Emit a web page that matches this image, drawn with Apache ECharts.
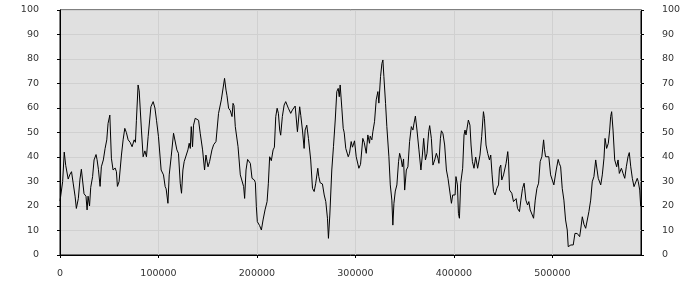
<!DOCTYPE html>
<html>
<head>
<meta charset="utf-8">
<script src="https://cdn.jsdelivr.net/npm/echarts@6/dist/echarts.min.js"></script>
<style>html,body{margin:0;padding:0;background:#fff}#c{width:700px;height:300px}</style>
</head>
<body>
<div id="c"></div>
<script>
var xTicks = [0, 100000, 200000, 300000, 400000, 500000];
var yTicks = [0, 10, 20, 30, 40, 50, 60, 70, 80, 90, 100];
var xValues = [
0,1500,2700,4300,5800,8300,10200,11700,13500,15300,16600,18600,20300,21700,23100,24400,26400,27500,28500,30000,
31200,33100,34600,36600,37600,39000,40700,42000,44000,45800,47500,48800,50600,52200,53900,56000,57300,58300,60000,62400,
64100,65800,67400,69200,71200,73200,75300,76600,77600,79300,80400,82700,84400,86200,87800,89500,92300,94600,96400,98000,
100000,102700,105100,106800,107800,109600,110900,112900,115300,116300,118700,120300,122100,123400,124800,126100,127900,129900,131200,132300,
133300,134600,135600,137300,139100,140700,142400,144800,146800,148200,150300,151900,154300,156000,158400,159400,161000,163800,165100,167100,
168600,169600,171200,172900,174700,175700,176700,178000,180800,183100,184900,186500,187500,188900,190500,193300,195000,197400,198400,199400,
200400,202700,204500,206200,208200,210300,211600,212900,214600,216400,217700,219100,220500,221800,223100,224100,225800,227600,229200,230200,
231900,234300,236000,238800,241100,242100,243400,244500,246200,247900,248900,250600,252300,254600,256400,258100,259700,261800,262800,264200,
266500,268300,269900,271600,272600,274000,276000,277700,279500,281100,282500,283600,284500,286200,287600,288600,290200,292700,294000,295700,
297000,299100,300800,303500,305200,307500,308900,311000,312600,314300,315000,316700,317700,319400,321100,322800,323800,325500,326900,327900,
328900,330600,331900,334000,335400,337000,338000,339100,340500,342100,343800,344900,346600,347600,348900,350000,351700,353300,355000,356800,
358400,359400,360900,362500,364500,366500,368000,369300,371100,372700,374400,375400,377100,378700,380500,382200,383800,384800,386300,387300,
388900,390600,392400,394000,395400,397500,398800,401200,402100,403600,404600,405600,406900,408900,410300,411300,412300,414700,416300,417400,
418800,420400,422100,424100,426500,428200,430000,431000,432600,434300,436100,437400,438800,440200,441800,443600,445300,446300,447600,448600,
450400,453000,454700,455500,456500,458800,460500,462200,463200,464600,466600,468000,469700,471300,473100,474800,476100,477500,479200,480900,
482600,484300,486000,487600,489300,491100,492000,493100,496400,498200,499800,501500,503900,505900,507000,508400,510000,511700,513400,515100,
516100,518800,521200,522900,525200,527700,528700,530400,532100,533800,535500,537100,538900,540500,542200,544000,545600,546600,549100,550700,
552400,553500,555100,556800,558200,559200,560200,561600,563300,565300,566700,568000,570100,571800,573500,575100,576800,578100,579600,581200,
582900,584600,586200,587200,588700,589700
];
var yValues = [
22,22,30,42,36.6,31,33,34,29,24,19,23,31,35,35,25,24,18.4,24,20,
27.6,32,38.8,41,39,35,28,36,38.8,43.5,47,53.7,57.1,39.5,34.7,35.5,34,28,30,40.8,
47,51.7,50,47,46,44.2,47,46,55,69.4,67,51,40.1,42.5,40.1,48.3,60.5,62.6,60,55,
48.3,34.7,32.7,27.9,27,21.1,32.7,40.1,49.7,50.3,42.9,41.5,29.3,25.2,34.7,38.1,37.4,42.9,45.6,43.5,
52.4,44.2,53,55.8,55.1,55,49.7,42.9,34.7,40.8,36,38.1,42.9,45,46.3,47,57.8,63.3,63.9,72.1,
67.3,65,59.9,59,56.5,61.9,61,52.4,44.2,32.7,32,27.9,23.1,34.7,39,37.4,31.3,30.6,29.5,19.7,
13.6,12,10.2,14.3,18.4,21.8,29.3,40.1,38.5,42.9,44,56.5,59.9,57.8,51,48.9,56.5,61.2,62.6,63.3,
59.9,57.8,59.2,60.8,50.3,51,60.5,57,51,43.5,51,53,47.6,38.8,27.2,25.9,29.3,35.4,32,29.5,
29,24.5,21.8,15,6.8,16.3,34.7,44.2,55.1,66.7,68,64.6,69.4,59.9,51.7,50,43.5,40.1,41.5,46.3,
44,46.6,40.1,35.4,37,47.6,46,41.5,49,45.6,48.5,47,50.3,54.4,63.3,66.7,62,72.8,78.2,79.6,
72.8,61.9,52.4,40.1,28.6,22.4,12.2,21.1,26.1,28.6,38.1,41.5,38.8,36,39.2,26.5,34.7,36,46.3,52.4,
51,53.5,56.7,51,42.9,34.7,40.8,47.6,38.8,41.5,50.3,52.8,47.6,36.7,38.8,41.5,39.5,37.4,47.6,50.7,
49.5,44.9,34.7,31.3,30.5,21.1,24.5,24.5,32,28.6,17,15,29.3,35.4,49,51,49,55.1,53,44.9,
38.1,35.4,40,35.4,40.8,48.3,58.5,55.8,44.9,41.5,38.8,40.8,32.7,25.9,24.5,27.2,28.6,35.4,36.7,30.6,
32.7,37.4,42.2,38,26.5,25.2,21.8,22.4,23,19,17.7,22.4,27.2,29.3,22.4,20.4,21.8,18.4,17.7,15,
22.4,27.2,29.3,38.1,40.1,47,43,40.1,40.1,32.7,33.5,28.6,34.7,39,37.4,36,27.2,22.4,14.3,10.2,
3.4,4.1,4.1,8.8,8.8,7.5,10.2,15.6,12.5,10.9,10.9,17.7,22.4,29.9,32,38.8,38.8,31.3,28.6,32.7,
39.5,47.6,43.5,45.6,51,56.5,58.5,51,38.8,36,38.8,33.3,35.4,33.3,31.3,36,40.1,41.8,36,31.3,
27.9,27.5,31.3,30,26.5,19.7
];

var seriesData = xValues.map(function (x, i) { return [x, yValues[i]]; });
var labelFont = { fontFamily: 'DejaVu Sans', fontSize: 9.5, color: '#333' };
function plain(v) { return String(v); }

function yAxis(pos) {
  return {
    type: 'value', position: pos, min: 0, max: 100, interval: 10,
    axisLine: { show: true, lineStyle: { color: '#000', width: 1 } },
    axisTick: { show: true, length: 3, lineStyle: { color: '#000' } },
    axisLabel: Object.assign({ margin: 21, customValues: yTicks, formatter: plain }, labelFont),
    splitLine: { show: pos === 'left', lineStyle: { color: '#d0d0d0', width: 1 } }
  };
}

var chart = echarts.init(document.getElementById('c'), null, { renderer: 'canvas' });
chart.setOption({
  animation: false,
  backgroundColor: '#fff',
  grid: { left: 60, right: 59, top: 10, bottom: 45, show: true, backgroundColor: '#e0e0e0', borderColor: '#000', borderWidth: 1 },
  xAxis: {
    type: 'value', min: 0, max: 590000, interval: 100000,
    axisLine: { show: true, lineStyle: { color: '#000', width: 1 } },
    axisTick: { show: true, length: 3, customValues: xTicks, lineStyle: { color: '#000' } },
    axisLabel: Object.assign({ margin: 14, customValues: xTicks, formatter: plain }, labelFont),
    splitLine: { show: true, lineStyle: { color: '#d0d0d0', width: 1 } }
  },
  yAxis: [yAxis('left'), yAxis('right')],
  series: [{
    type: 'line', data: seriesData, showSymbol: false, symbol: 'none',
    lineStyle: { color: '#000', width: 1 }, z: 5
  }]
});
</script>
</body>
</html>
